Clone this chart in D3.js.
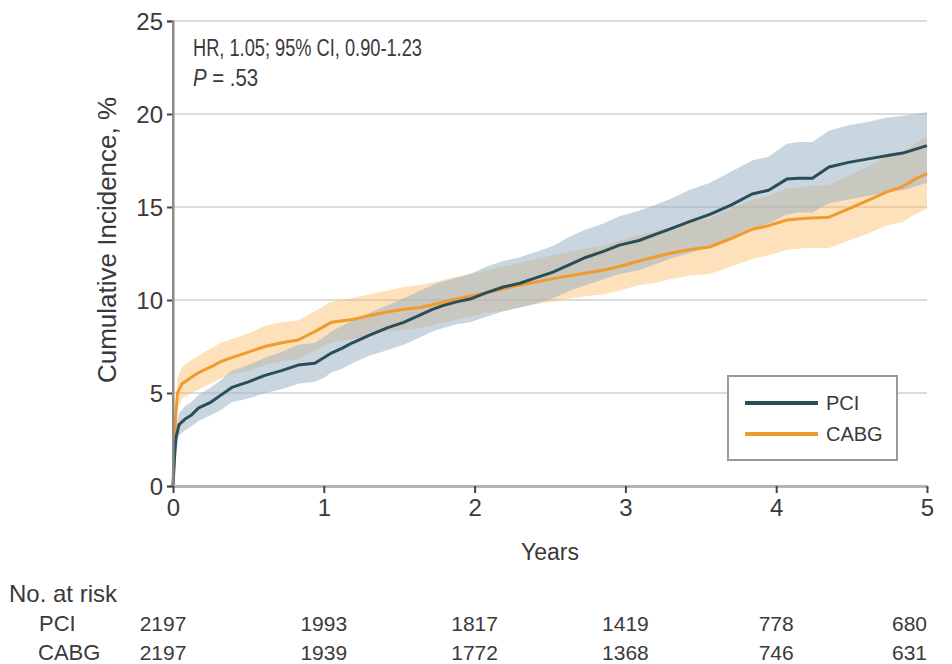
<!DOCTYPE html>
<html><head><meta charset="utf-8">
<script src="https://cdn.jsdelivr.net/npm/d3@7/dist/d3.min.js"></script>
<style>
html,body{margin:0;padding:0;background:#fff;}
svg text{font-family:"Liberation Sans",Arial,sans-serif;fill:#3a3a3a;}
</style></head>
<body><svg id="chart" width="952" height="664"></svg>
<script>
// ---- data ----
const pciTime = [0,0.01,0.02,0.04,0.08,0.12,0.17,0.25,0.32,0.39,0.5,0.61,0.72,0.83,0.94,1.0,1.05,1.12,1.19,1.3,1.42,1.53,1.64,1.72,1.79,1.88,1.97,2.08,2.19,2.3,2.41,2.52,2.63,2.74,2.85,2.96,3.09,3.19,3.29,3.42,3.56,3.7,3.84,3.95,4.07,4.15,4.24,4.35,4.48,4.62,4.73,4.84,4.92,5.0];
const pciValue = [0,1.5,2.6,3.3,3.6,3.8,4.2,4.5,4.9,5.3,5.6,5.95,6.2,6.5,6.6,6.9,7.15,7.4,7.7,8.1,8.5,8.8,9.2,9.5,9.7,9.9,10.05,10.4,10.7,10.9,11.2,11.5,11.9,12.3,12.6,12.95,13.2,13.5,13.8,14.2,14.6,15.1,15.7,15.9,16.5,16.55,16.55,17.15,17.4,17.6,17.75,17.9,18.1,18.3];
const pciLower = [0,1.1,2.1,2.7,3.0,3.2,3.5,3.8,4.1,4.5,4.7,5.0,5.2,5.5,5.6,5.8,6.1,6.3,6.6,7.0,7.3,7.6,8.0,8.3,8.5,8.7,8.8,9.1,9.4,9.6,9.8,10.1,10.5,10.8,11.1,11.4,11.6,11.9,12.2,12.5,12.9,13.3,13.9,14.1,14.6,14.7,14.7,15.2,15.4,15.6,15.8,15.9,16.1,16.3];
const pciUpper = [0,1.9,3.1,3.9,4.3,4.5,4.9,5.3,5.7,6.2,6.5,6.9,7.2,7.6,7.7,8.0,8.3,8.6,8.9,9.3,9.7,10.1,10.5,10.8,11.0,11.2,11.4,11.8,12.1,12.3,12.6,12.9,13.4,13.8,14.1,14.5,14.8,15.1,15.4,15.9,16.3,16.9,17.5,17.7,18.4,18.5,18.5,19.1,19.4,19.6,19.8,19.9,20.0,20.1];

const cabgTime = [0,0.01,0.02,0.03,0.06,0.125,0.17,0.25,0.32,0.39,0.5,0.61,0.72,0.83,0.94,1.05,1.19,1.3,1.42,1.53,1.64,1.75,1.85,1.97,2.08,2.19,2.3,2.41,2.52,2.63,2.74,2.85,2.96,3.09,3.19,3.29,3.42,3.56,3.7,3.84,3.95,4.07,4.2,4.35,4.48,4.62,4.73,4.84,4.92,5.0];
const cabgValue = [0,2.5,4.0,5.0,5.5,5.86,6.1,6.4,6.7,6.9,7.2,7.5,7.7,7.85,8.3,8.8,8.95,9.15,9.35,9.5,9.6,9.8,10.0,10.2,10.4,10.6,10.8,10.97,11.15,11.3,11.45,11.6,11.8,12.1,12.3,12.5,12.7,12.85,13.3,13.8,14.0,14.3,14.4,14.45,14.9,15.4,15.8,16.1,16.5,16.8];
const cabgLower = [0,2.0,3.3,4.2,4.7,5.0,5.2,5.5,5.8,6.0,6.2,6.5,6.7,6.8,7.3,7.7,7.9,8.1,8.3,8.4,8.5,8.7,8.9,9.1,9.3,9.4,9.6,9.8,9.9,10.1,10.2,10.3,10.5,10.8,10.9,11.1,11.3,11.4,11.8,12.2,12.4,12.7,12.8,12.8,13.2,13.6,14.0,14.2,14.6,14.9];
const cabgUpper = [0,3.0,4.6,5.8,6.4,6.8,7.0,7.4,7.7,7.9,8.2,8.6,8.8,8.9,9.4,9.9,10.1,10.3,10.5,10.7,10.8,11.0,11.2,11.4,11.6,11.8,12.0,12.2,12.4,12.6,12.8,12.9,13.2,13.5,13.7,13.9,14.2,14.4,14.9,15.4,15.6,16.0,16.1,16.2,16.7,17.2,17.7,18.0,18.4,18.8];

const xTicks = [0,1,2,3,4,5];
const yTicks = [0,5,10,15,20,25];
const groups = ["PCI","CABG"];
const riskPCI = [2197,1993,1817,1419,778,680];
const riskCABG = [2197,1939,1772,1368,746,631];
const hrText = "HR, 1.05; 95% CI, 0.90-1.23";
const pText = ".53";

// ---- chart ----
const svg = d3.select("#chart");
const x = d3.scaleLinear().domain([0,5]).range([173,927]);
const y = d3.scaleLinear().domain([0,25]).range([486,21]);
const colors = {PCI:"#2b4d57", CABG:"#f19b2c"};
const bandFill = {PCI:"#9cb5c7", CABG:"#f8b85a"};
const bandOp = {PCI:0.55, CABG:0.42};

// gridlines
svg.append("g").selectAll("line").data(yTicks.filter(d=>d>0)).join("line")
  .attr("x1",x(0)).attr("x2",x(5)).attr("y1",d=>y(d)).attr("y2",d=>y(d))
  .attr("stroke","#dcdcdc").attr("stroke-width",2);

const series = [
  {name:"CABG", t:cabgTime, v:cabgValue, lo:cabgLower, hi:cabgUpper},
  {name:"PCI", t:pciTime, v:pciValue, lo:pciLower, hi:pciUpper}
];
series.forEach(s=>{ s.pts = s.t.map((t,i)=>({t, v:s.v[i], lo:s.lo[i], hi:s.hi[i]})); });

const area = d3.area().curve(d3.curveLinear).x(d=>x(d.t)).y0(d=>y(d.lo)).y1(d=>y(d.hi));
const line = d3.line().curve(d3.curveLinear).x(d=>x(d.t)).y(d=>y(d.v));

series.forEach(s=>{
  svg.append("path").datum(s.pts).attr("d",area)
    .attr("fill",bandFill[s.name]).attr("fill-opacity",bandOp[s.name]);
});
series.forEach(s=>{
  svg.append("path").datum(s.pts).attr("d",line)
    .attr("fill","none").attr("stroke",colors[s.name]).attr("stroke-width",3)
    .attr("stroke-linejoin","round");
});

// y axis
const yAxis = d3.axisLeft(y).tickValues(yTicks).tickFormat(d3.format("d")).tickSize(6).tickPadding(4);
const gy = svg.append("g").attr("transform",`translate(${x(0)},0)`).call(yAxis);
gy.select(".domain").attr("stroke","#8a8a8a").attr("stroke-width",2);
gy.selectAll(".tick line").attr("stroke","#444").attr("stroke-width",2);
gy.selectAll(".tick text").style("font-size","24px").attr("fill","#3a3a3a").attr("dy","0.36em");

// x axis
const xAxis = d3.axisBottom(x).tickValues(xTicks).tickFormat(d3.format("d")).tickSize(7).tickPadding(6).tickSizeOuter(0);
const gx = svg.append("g").attr("transform",`translate(0,${y(0)})`).call(xAxis);
gx.select(".domain").attr("stroke","#b4b4b4").attr("stroke-width",3);
gx.selectAll(".tick line").attr("stroke","#444").attr("stroke-width",2);
gx.selectAll(".tick text").style("font-size","24px").attr("fill","#3a3a3a");

svg.append("line").attr("x1",x(0)).attr("x2",x(0)).attr("y1",y(25)).attr("y2",y(0))
  .attr("stroke","#8a8a8a").attr("stroke-width",2);

// axis titles
svg.append("text").attr("x",x(2.5)).attr("y",560).attr("text-anchor","middle")
  .style("font-size","23px").text("Years");
svg.append("text").attr("transform","translate(116,240) rotate(-90)").attr("text-anchor","middle")
  .style("font-size","26px").text("Cumulative Incidence, %");

// annotation (horizontally condensed to match the reference face)
svg.append("text").attr("transform","translate(193,56) scale(0.76,1)")
  .style("font-size","24px").text(hrText);
const pt = svg.append("text").attr("transform","translate(193,86) scale(0.85,1)").style("font-size","24px");
pt.append("tspan").style("font-style","italic").text("P");
pt.append("tspan").text(" = " + pText);

// legend
const lg = svg.append("g");
lg.append("rect").attr("x",728).attr("y",376).attr("width",169).attr("height",84)
  .attr("fill","#fff").attr("stroke","#9a9a9a").attr("stroke-width",2);
groups.forEach((g,i)=>{
  const yy = 403 + i*31;
  lg.append("line").attr("x1",745).attr("x2",818).attr("y1",yy).attr("y2",yy)
    .attr("stroke",colors[g]).attr("stroke-width",4);
  lg.append("text").attr("x",826).attr("y",yy).attr("dy","0.36em").style("font-size","20px").text(g);
});

// number at risk table
svg.append("text").attr("x",9).attr("y",602).style("font-size","24px").text("No. at risk");
const rows = [{name:"PCI", vals:riskPCI, yy:631, lx:39},{name:"CABG", vals:riskCABG, yy:660, lx:38}];
rows.forEach(r=>{
  svg.append("text").attr("x",r.lx).attr("y",r.yy).style("font-size","22px").text(r.name);
  r.vals.forEach((v,i)=>{
    const last = i===xTicks.length-1;
    const px = i===0 ? x(xTicks[i]) - 10 : x(xTicks[i]);
    svg.append("text").attr("x",px).attr("y",r.yy)
      .attr("text-anchor", last ? "end" : "middle").style("font-size","21px").text(v);
  });
});
</script></body></html>
